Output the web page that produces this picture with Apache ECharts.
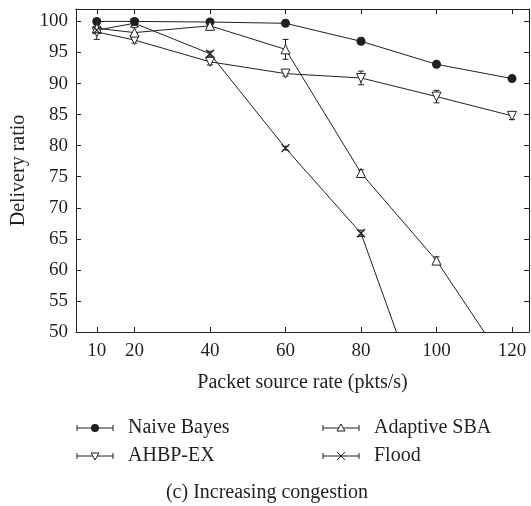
<!DOCTYPE html>
<html><head><meta charset="utf-8">
<script src="https://cdn.jsdelivr.net/npm/echarts@6/dist/echarts.min.js"></script>
<style>html,body{margin:0;padding:0;background:#fff}#c{width:531px;height:506px}</style>
</head><body><div id="c"></div>
<script>
const xValues = [10, 20, 40, 60, 80, 100, 120];
const yTicks = [50, 55, 60, 65, 70, 75, 80, 85, 90, 95, 100];
const naiveBayes = [100, 100, 99.9, 99.7, 96.8, 93.1, 90.8];
const naiveBayesErr = [0.2, 0.2, 0.3, 0.3, 0.5, 0.3, 0.3];
const ahbpEx = [98.3, 97.0, 93.5, 91.6, 90.9, 87.9, 84.8];
const ahbpExErr = [1.2, 0.5, 0.5, 0.4, 1.1, 1.0, 0.6];
const adaptiveSba = [98.9, 98.2, 99.3, 95.5, 75.6, 61.5, 43.3];
const adaptiveSbaErr = [0.5, 0.8, 0.4, 1.6, 0.5, 0.6, 0.5];
const flood = [98.6, 99.7, 94.8, 79.6, 65.9, 32, 10];
const floodErr = [0.5, 0.3, 0.4, 0.3, 0.5, 0.5, 0.5];
const seriesNames = ['Naive Bayes', 'AHBP-EX', 'Adaptive SBA', 'Flood'];

const FONT = '"Liberation Serif", "DejaVu Serif", serif';
const INK = '#231f20';
const FS = 19;
const FT = 20;

function pairs(vals) { return xValues.map((x, i) => [x, vals[i]]); }
function errData(vals, errs) { return xValues.map((x, i) => [x, vals[i] - errs[i], vals[i] + errs[i]]); }

function errSeries(vals, errs) {
  return {
    type: 'custom', silent: true, clip: true, z: 3,
    data: errData(vals, errs),
    renderItem: function (params, api) {
      const lo = api.coord([api.value(0), api.value(1)]);
      const hi = api.coord([api.value(0), api.value(2)]);
      const w = 3;
      const st = { stroke: INK, lineWidth: 1 };
      return { type: 'group', children: [
        { type: 'line', shape: { x1: lo[0], y1: lo[1], x2: hi[0], y2: hi[1] }, style: st },
        { type: 'line', shape: { x1: lo[0] - w, y1: lo[1], x2: lo[0] + w, y2: lo[1] }, style: st },
        { type: 'line', shape: { x1: hi[0] - w, y1: hi[1], x2: hi[0] + w, y2: hi[1] }, style: st }
      ]};
    }
  };
}

function lineSeries(name, vals, sym, opts) {
  return Object.assign({
    name: name, type: 'line', data: pairs(vals), symbol: sym, symbolSize: 9,
    lineStyle: { color: INK, width: 1 }, clip: true, z: 4,
    itemStyle: { color: '#fff', borderColor: INK, borderWidth: 1 }
  }, opts || {});
}

const chart = echarts.init(document.getElementById('c'));
const axisCommon = {
  type: 'value', min: 4.5, max: 124.5,
  axisLine: { show: true, lineStyle: { color: INK, width: 1 } },
  splitLine: { show: false }
};
const yCommon = {
  type: 'value', min: 50, max: 102,
  axisLine: { show: true, lineStyle: { color: INK, width: 1 } },
  splitLine: { show: false }
};

const legendItems = [
  { name: seriesNames[0], x: 77, y: 428, mk: 'circle' },
  { name: seriesNames[1], x: 77, y: 456, mk: 'down' },
  { name: seriesNames[2], x: 323, y: 428, mk: 'up' },
  { name: seriesNames[3], x: 323, y: 456, mk: 'x' }
];
const graphics = [];
legendItems.forEach(it => {
  const st = { stroke: INK, lineWidth: 1 };
  const x0 = it.x, x1 = it.x + 36, cy = it.y, cx = it.x + 18;
  graphics.push({ type: 'line', shape: { x1: x0, y1: cy, x2: x1, y2: cy }, style: st });
  graphics.push({ type: 'line', shape: { x1: x0, y1: cy - 3, x2: x0, y2: cy + 3 }, style: st });
  graphics.push({ type: 'line', shape: { x1: x1, y1: cy - 3, x2: x1, y2: cy + 3 }, style: st });
  if (it.mk === 'circle') graphics.push({ type: 'circle', shape: { cx: cx, cy: cy, r: 4 }, style: { fill: INK } });
  if (it.mk === 'up') graphics.push({ type: 'polygon', shape: { points: [[cx, cy - 4], [cx + 4, cy + 3], [cx - 4, cy + 3]] }, style: { fill: '#fff', stroke: INK, lineWidth: 1 } });
  if (it.mk === 'down') graphics.push({ type: 'polygon', shape: { points: [[cx, cy + 4], [cx + 4, cy - 3], [cx - 4, cy - 3]] }, style: { fill: '#fff', stroke: INK, lineWidth: 1 } });
  if (it.mk === 'x') {
    graphics.push({ type: 'line', shape: { x1: cx - 4, y1: cy - 4, x2: cx + 4, y2: cy + 4 }, style: st });
    graphics.push({ type: 'line', shape: { x1: cx - 4, y1: cy + 4, x2: cx + 4, y2: cy - 4 }, style: st });
  }
  graphics.push({ type: 'text', x: it.x + 51, y: cy, style: { text: it.name, font: FT + 'px ' + FONT, fill: INK, verticalAlign: 'middle' } });
});
graphics.push({ type: 'text', x: 267, y: 493, style: { text: '(c) Increasing congestion', font: FT + 'px ' + FONT, fill: INK, align: 'center', verticalAlign: 'middle' } });

chart.setOption({
  animation: false,
  backgroundColor: '#fff',
  grid: { left: 76, right: 2, top: 9, bottom: 174 },
  xAxis: [
    Object.assign({}, axisCommon, {
      position: 'bottom',
      name: 'Packet source rate (pkts/s)', nameLocation: 'middle', nameGap: 41,
      nameTextStyle: { fontFamily: FONT, fontSize: FT, color: INK },
      axisTick: { show: true, inside: true, length: 5, customValues: xValues, lineStyle: { color: INK } },
      axisLabel: { customValues: xValues, fontFamily: FONT, fontSize: FS, color: INK, margin: 10 }
    }),
    Object.assign({}, axisCommon, {
      position: 'top',
      axisTick: { show: true, inside: true, length: 5, customValues: xValues, lineStyle: { color: INK } },
      axisLabel: { show: false }
    })
  ],
  yAxis: [
    Object.assign({}, yCommon, {
      position: 'left',
      name: 'Delivery ratio', nameLocation: 'middle', nameGap: 45,
      nameTextStyle: { fontFamily: FONT, fontSize: FT, color: INK },
      axisTick: { show: true, inside: true, length: 5, customValues: yTicks, lineStyle: { color: INK } },
      axisLabel: { customValues: yTicks, fontFamily: FONT, fontSize: FS, color: INK, margin: 8 }
    }),
    Object.assign({}, yCommon, {
      position: 'right',
      axisTick: { show: true, inside: true, length: 5, customValues: yTicks, lineStyle: { color: INK } },
      axisLabel: { show: false }
    })
  ],
  graphic: graphics,
  series: [
    errSeries(naiveBayes, naiveBayesErr),
    errSeries(ahbpEx, ahbpExErr),
    errSeries(adaptiveSba, adaptiveSbaErr),
    errSeries(flood, floodErr),
    lineSeries(seriesNames[0], naiveBayes, 'circle', { itemStyle: { color: INK, borderColor: INK, borderWidth: 0 } }),
    lineSeries(seriesNames[1], ahbpEx, 'triangle', { symbolRotate: 180, symbolSize: 9 }),
    lineSeries(seriesNames[2], adaptiveSba, 'triangle', { symbolSize: 9 }),
    lineSeries(seriesNames[3], flood, 'path://M0,0 L10,10 M10,0 L0,10', { symbolSize: 8, itemStyle: { color: 'none', borderColor: INK, borderWidth: 1.3 } })
  ]
});
</script></body></html>
